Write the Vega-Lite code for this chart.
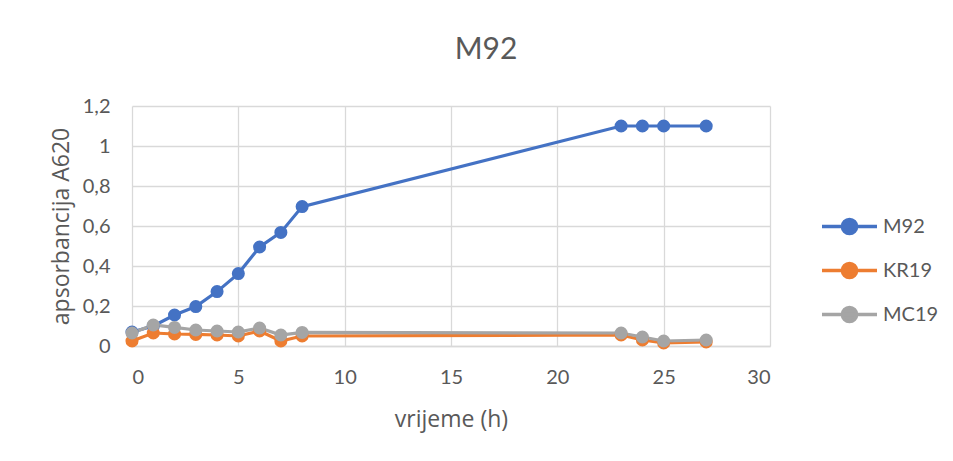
{
  "$schema": "https://vega.github.io/schema/vega-lite/v6.json",
  "width": 638,
  "height": 240,
  "autosize": {"type": "none"},
  "padding": {"left": 132, "top": 106, "right": 183, "bottom": 115},
  "background": "white",
  "title": {
    "text": "M92",
    "fontSize": 30,
    "font": "Lato",
    "fontWeight": "normal",
    "color": "#595959",
    "anchor": "middle",
    "frame": "group",
    "dx": 35,
    "offset": 31
  },
  "data": {
    "values": [
      {"t": 0, "series": "M92", "a": 0.07},
      {"t": 1, "series": "M92", "a": 0.10},
      {"t": 2, "series": "M92", "a": 0.155},
      {"t": 3, "series": "M92", "a": 0.197},
      {"t": 4, "series": "M92", "a": 0.272},
      {"t": 5, "series": "M92", "a": 0.362},
      {"t": 6, "series": "M92", "a": 0.495},
      {"t": 7, "series": "M92", "a": 0.568},
      {"t": 8, "series": "M92", "a": 0.697},
      {"t": 23, "series": "M92", "a": 1.10},
      {"t": 24, "series": "M92", "a": 1.10},
      {"t": 25, "series": "M92", "a": 1.10},
      {"t": 27, "series": "M92", "a": 1.10},
      {"t": 0, "series": "KR19", "a": 0.025},
      {"t": 1, "series": "KR19", "a": 0.065},
      {"t": 2, "series": "KR19", "a": 0.06},
      {"t": 3, "series": "KR19", "a": 0.058},
      {"t": 4, "series": "KR19", "a": 0.055},
      {"t": 5, "series": "KR19", "a": 0.05},
      {"t": 6, "series": "KR19", "a": 0.075},
      {"t": 7, "series": "KR19", "a": 0.025},
      {"t": 8, "series": "KR19", "a": 0.05},
      {"t": 23, "series": "KR19", "a": 0.055},
      {"t": 24, "series": "KR19", "a": 0.03},
      {"t": 25, "series": "KR19", "a": 0.015},
      {"t": 27, "series": "KR19", "a": 0.02},
      {"t": 0, "series": "MC19", "a": 0.065},
      {"t": 1, "series": "MC19", "a": 0.105},
      {"t": 2, "series": "MC19", "a": 0.093},
      {"t": 3, "series": "MC19", "a": 0.08},
      {"t": 4, "series": "MC19", "a": 0.075},
      {"t": 5, "series": "MC19", "a": 0.07},
      {"t": 6, "series": "MC19", "a": 0.09},
      {"t": 7, "series": "MC19", "a": 0.055},
      {"t": 8, "series": "MC19", "a": 0.068},
      {"t": 23, "series": "MC19", "a": 0.065},
      {"t": 24, "series": "MC19", "a": 0.045},
      {"t": 25, "series": "MC19", "a": 0.025},
      {"t": 27, "series": "MC19", "a": 0.03}
    ]
  },
  "encoding": {
    "x": {
      "field": "t",
      "type": "quantitative",
      "scale": {"domain": [0, 30], "nice": false},
      "axis": {
        "title": "vrijeme (h)",
        "values": [0, 5, 10, 15, 20, 25, 30],
        "titlePadding": 21
      }
    },
    "y": {
      "field": "a",
      "type": "quantitative",
      "scale": {"domain": [0, 1.2], "nice": false},
      "axis": {
        "title": "apsorbancija A620",
        "values": [0, 0.2, 0.4, 0.6, 0.8, 1, 1.2],
        "labelExpr": "replace(format(datum.value, '.1~f'), '.', ',')",
        "titlePadding": 9,
        "domain": false
      }
    },
    "color": {
      "field": "series",
      "type": "nominal",
      "sort": ["M92", "KR19", "MC19"],
      "scale": {"domain": ["M92", "KR19", "MC19"], "range": ["#4472C4", "#ED7D31", "#A5A5A5"]},
      "legend": {
        "title": null,
        "orient": "none",
        "legendX": 688,
        "legendY": 91,
        "symbolType": "M-1,0L1,0M0.26,0A0.26,0.26,0,1,1,-0.26,0A0.26,0.26,0,1,1,0.26,0Z",
        "symbolSize": 3025,
        "symbolStrokeWidth": 3.4,
        "labelFontSize": 20,
        "labelFont": "Lato",
        "labelColor": "#595959",
        "rowPadding": 0,
        "labelOffset": 4
      }
    }
  },
  "layer": [
    {
      "mark": {"type": "line", "interpolate": "linear", "strokeWidth": 3.2}
    },
    {
      "mark": {"type": "point", "filled": true, "size": 170, "opacity": 1}
    }
  ],
  "config": {
    "font": "Lato",
    "axis": {
      "labelFont": "Lato",
      "titleFont": "Open Sans",
      "labelFontSize": 20,
      "titleFontSize": 23,
      "titleFontWeight": "normal",
      "labelColor": "#595959",
      "titleColor": "#595959",
      "gridColor": "#D9D9D9",
      "gridWidth": 1.3,
      "ticks": false,
      "domainColor": "#D9D9D9",
      "domainWidth": 1.3
    },
    "axisX": {"labelPadding": 21},
    "axisY": {"labelPadding": 22},
    "view": {"stroke": null}
  }
}
